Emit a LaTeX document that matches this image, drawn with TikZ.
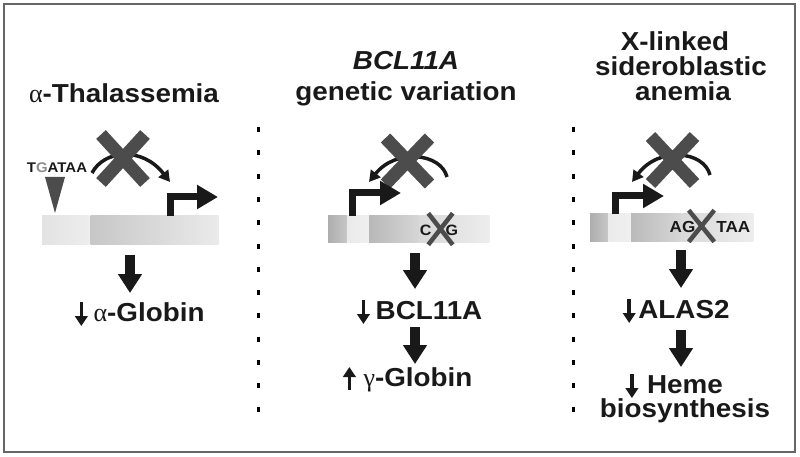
\documentclass[tikz,border=0pt]{standalone}
\usepackage{fontspec}
\setmainfont{Liberation Sans}[FakeStretch=1.07]
\newfontfamily\grk{Liberation Serif}
\usetikzlibrary{arrows.meta,shapes.misc}
\definecolor{crossgray}{gray}{0.3}
\definecolor{framegray}{gray}{0.4}
\newcommand{\bigsize}{\fontsize{26}{26}\selectfont}

\begin{document}
\begin{tikzpicture}[x=1pt,y=-1pt,
  label/.style={font=\bfseries\bigsize,anchor=base,inner sep=0pt,text=black!90},
  motif/.style={font=\bfseries\fontsize{#1}{#1}\selectfont,anchor=base,inner sep=0pt,text=black!90},
  seg/.style={inner sep=0pt,anchor=west,minimum height=28pt},
  bigcross/.style={cross out,draw=crossgray,line width=13pt,inner sep=0pt,minimum width=31pt,minimum height=33pt},
  smallcross/.style={cross out,draw=crossgray,line width=4.5pt,inner sep=0pt,minimum width=20pt,minimum height=27pt},
  fatarrow/.style={draw=black!90,line width=10pt,-{Triangle[length=19pt,width=23pt]}},
  bentarrow/.style={draw=black!90,line width=7pt,line join=miter,-{Triangle[length=21pt,width=23pt]}},
  curvearrow/.style={draw=black!90,line width=3.5pt,-{Triangle[length=11pt,width=12pt]}},
  smallarrow/.style={draw=black!90,line width=3.6pt,-{Triangle[length=10pt,width=12.5pt]}},
  divider/.style={line width=3pt,dash pattern=on 5pt off 18.3pt},
]
\useasboundingbox (0,0) rectangle (800,457);
\draw[framegray,line width=1.5pt] (4,4) rectangle (795,452);

% titles
\node[label] (tA) at (124,103) {{\grk\mdseries α}-Thalassemia};
\node[label,font=\bfseries\itshape\bigsize] (tB1) at (406,70) {BCL11A};
\node[label] (tB2) at (406,101) {genetic variation};
\node[label] (tC1) at (675,51) {X-linked};
\node[label] (tC2) at (681,76) {sideroblastic};
\node[label] (tC3) at (683,101) {anemia};

\draw[divider] (258,127) -- (258,424);
\draw[divider] (573,127) -- (573,424);

% alpha-thalassemia
\node[seg,minimum height=29pt,minimum width=48pt,left color=black!11,right color=black!7] (gA1) at (42,229.5) {};
\node[seg,minimum height=29pt,minimum width=128pt,left color=black!22,right color=black!8] (gA2) at (gA1.east) {};
\node[motif=14] (mA) at (57,173) {T\textcolor{black!45}{G}ATAA};
\fill[crossgray] (45,177) -- (65,177) -- (55,213) -- cycle;
\draw[curvearrow] (92,173) .. controls (104,150) and (142,146) .. (170,182);
\node[bigcross,minimum height=35pt] (xA) at (123,158.5) {};
\draw[bentarrow] (170,216) |- (218,197);
\coordinate (aA1) at (130,255); \coordinate (aA2) at (130,293);
\draw[fatarrow] (aA1) -- (aA2);
\node[label] (pA) at (149,321) {{\grk\mdseries α}-Globin};
\draw[smallarrow] ([xshift=-12pt,yshift=19pt]pA.base west) -- ([xshift=-12pt,yshift=-5pt]pA.base west);

% BCL11A
\node[seg,minimum height=27pt,minimum width=19pt,left color=black!32,right color=black!22] (gB1) at (328,228.5) {};
\node[seg,minimum height=27pt,minimum width=21pt,left color=black!8,right color=black!6] (gB2) at (gB1.east) {};
\node[seg,minimum height=27pt,minimum width=50pt,left color=black!28,right color=black!16] (gB3) at (gB2.east) {};
\node[seg,minimum height=27pt,minimum width=70pt,left color=black!15,right color=black!7] (gB4) at (gB3.east) {};
\node[motif=15] (mB) at (439,235) {C\hspace{14pt}G};
\node[smallcross] (sB) at (440.5,229) {};
\draw[curvearrow] (447,177) .. controls (441,153) and (396,148) .. (369,182);
\node[bigcross] (xB) at (407.5,161) {};
\draw[bentarrow] (352,216) |- (401,193);
\coordinate (aB1) at (415,253); \coordinate (aB2) at (415,289);
\draw[fatarrow] (aB1) -- (aB2);
\node[label] (pB1) at (429,319) {BCL11A};
\draw[smallarrow] ([xshift=-12pt,yshift=19pt]pB1.base west) -- ([xshift=-12pt,yshift=-5pt]pB1.base west);
\coordinate (aB3) at (415,327); \coordinate (aB4) at (415,364);
\draw[fatarrow] (aB3) -- (aB4);
\node[label] (pB2) at (418,386) {{\grk\mdseries γ}-Globin};
\draw[smallarrow] ([xshift=-14pt,yshift=-4pt]pB2.base west) -- ([xshift=-14pt,yshift=19pt]pB2.base west);

% X-linked sideroblastic anemia
\node[seg,minimum width=18pt,left color=black!32,right color=black!22] (gC1) at (590,227) {};
\node[seg,minimum width=22pt,left color=black!8,right color=black!6] (gC2) at (gC1.east) {};
\node[seg,minimum width=50pt,left color=black!27,right color=black!16] (gC3) at (gC2.east) {};
\node[seg,minimum width=72pt,left color=black!15,right color=black!7] (gC4) at (gC3.east) {};
\node[motif=16] (mC) at (710,233) {AG\hspace{21pt}TAA};
\node[smallcross,minimum width=21pt] (sC) at (701.5,226) {};
\draw[curvearrow] (710,175) .. controls (704,151) and (659,146) .. (632,182);
\node[bigcross,minimum height=34pt] (xC) at (672.5,160) {};
\draw[bentarrow] (615,214) |- (664,196);
\coordinate (aC1) at (681,250); \coordinate (aC2) at (681,288);
\draw[fatarrow] (aC1) -- (aC2);
\node[label] (pC1) at (684,318) {ALAS2};
\draw[smallarrow] ([xshift=-9pt,yshift=19pt]pC1.base west) -- ([xshift=-9pt,yshift=-5pt]pC1.base west);
\coordinate (aC3) at (681,330); \coordinate (aC4) at (681,367);
\draw[fatarrow] (aC3) -- (aC4);
\node[label] (pC2) at (685,393) {Heme};
\draw[smallarrow] ([xshift=-15pt,yshift=19pt]pC2.base west) -- ([xshift=-15pt,yshift=-5pt]pC2.base west);
\node[label] (pC3) at (685,417) {biosynthesis};
\end{tikzpicture}
\end{document}
